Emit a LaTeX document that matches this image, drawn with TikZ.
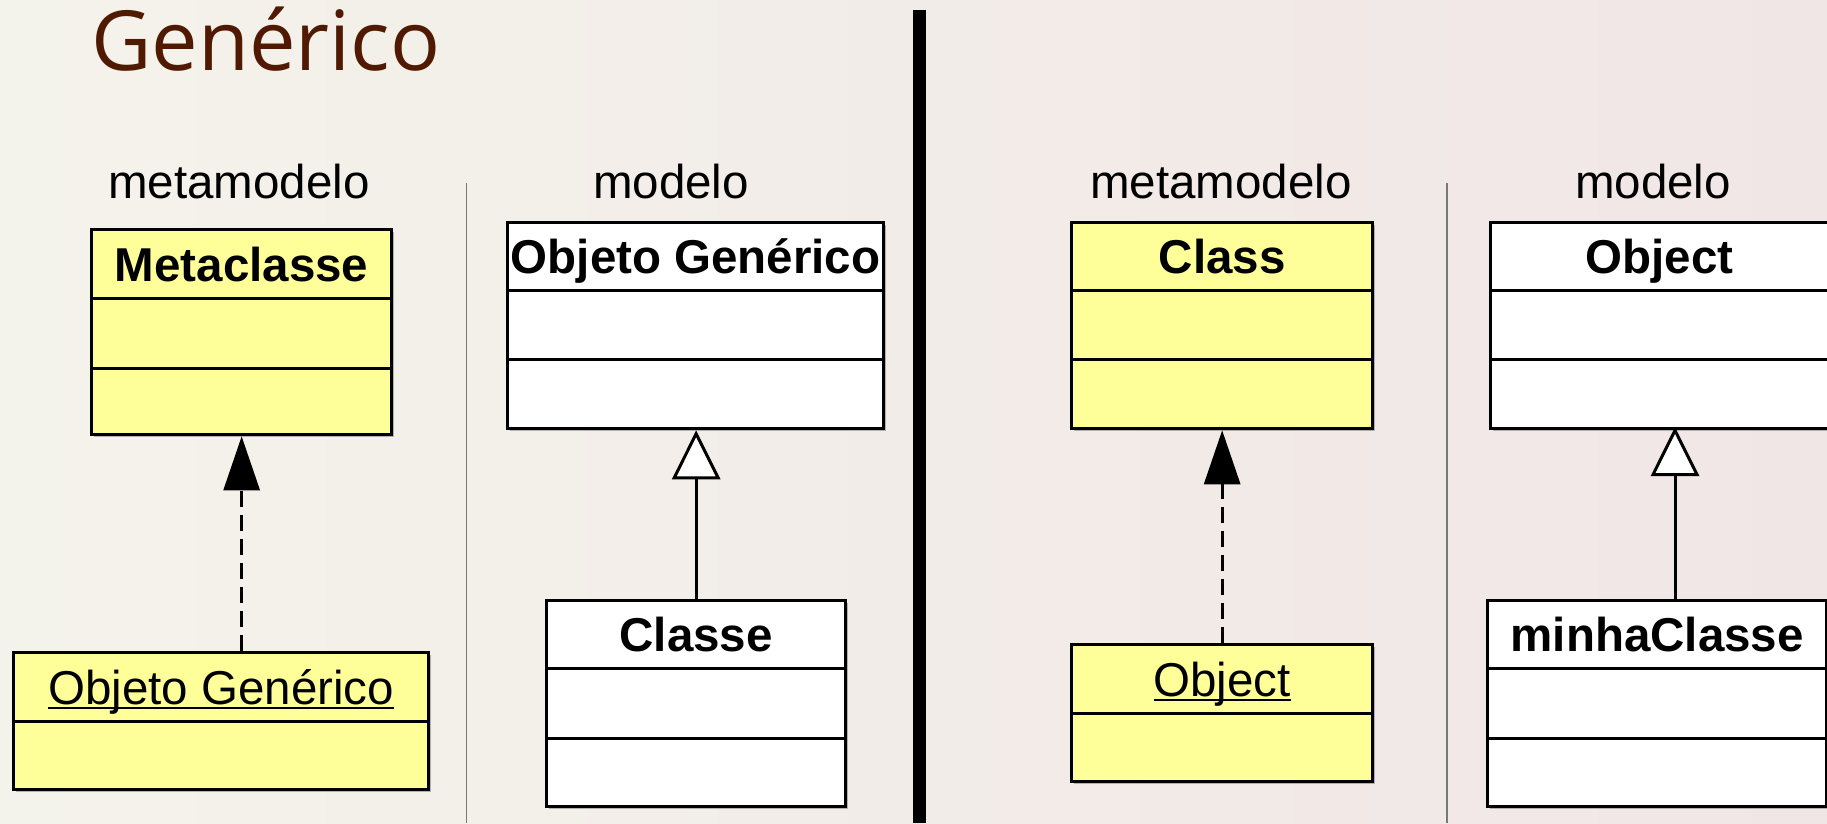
\documentclass[tikz,border=0pt]{standalone}
\usepackage{fontspec}
\setmainfont{Liberation Sans}
\newfontfamily\titlefont{Open Sans}
\usetikzlibrary{arrows.meta,shadows}
\definecolor{umly}{RGB}{255,255,153}
\definecolor{titlec}{RGB}{80,26,2}
\definecolor{bgL}{RGB}{244,243,235}
\definecolor{bgM}{RGB}{242,236,232}
\definecolor{bgR}{RGB}{241,230,230}
\definecolor{sepgray}{RGB}{120,120,120}
\newcommand\myul[1]{\setbox0\hbox{#1}\rlap{\rule[-0.11em]{\wd0}{0.06em}}\box0}
\begin{document}
\begin{tikzpicture}[x=1pt,y=-1pt,
  comp/.style={draw=black,line width=3.3pt,inner sep=0pt,anchor=north west,
    font=\fontsize{47.5}{57}\selectfont,text height=34pt,text depth=0pt,
    drop shadow={shadow xshift=2pt,shadow yshift=-2.5pt,opacity=0.45,fill=black!60}},
  ycomp/.style={comp,fill=umly},
  wcomp/.style={comp,fill=white},
  lab/.style={anchor=base,inner sep=0pt,font=\fontsize{47.5}{57}\selectfont},
  dep/.style={line width=3pt,dash pattern=on 16pt off 8pt,
    -{Triangle[length=54pt,width=36pt]}},
  gen/.style={line width=3pt,-{Triangle[open,length=49pt,width=48pt,fill=white]}},
  thinsep/.style={draw=sepgray,line width=1.3pt},
]
\useasboundingbox (0,0) rectangle (1827,823);
\shade[left color=bgL,right color=bgR,middle color=bgM] (0,0) rectangle (1827,823);

% title
\node[anchor=base west,inner sep=0pt,font=\titlefont\fontsize{83}{97}\selectfont,text=titlec] (title) at (91,70) {Genérico};

% separators
\draw[line width=13pt] (919.5,10) -- (919.5,823);
\draw[thinsep] (466.5,183) -- (466.5,823);
\draw[thinsep] (1447,183) -- (1447,823);

% labels
\node[lab] (lmetaL) at (239,198) {metamodelo};
\node[lab] (lmodL) at (671,198) {modelo};
\node[lab] (lmetaR) at (1221,198) {metamodelo};
\node[lab] (lmodR) at (1653,198) {modelo};

% Metaclasse
\node[ycomp,minimum width=300pt,minimum height=69pt] (mc1) at (90,228) {\bfseries Metaclasse};
\node[ycomp,minimum width=300pt,minimum height=70pt] (mc2) at (90,297) {};
\node[ycomp,minimum width=300pt,minimum height=66pt] (mc3) at (90,367) {};

% Objeto Generico (instance)
\node[ycomp,minimum width=415pt,minimum height=69pt] (ogi1) at (12,651) {\myul{Objeto Genérico}};
\node[ycomp,minimum width=415pt,minimum height=68pt] (ogi2) at (12,720) {};

% Objeto Generico (class)
\node[wcomp,minimum width=376pt,minimum height=68pt] (og1) at (506,221) {\bfseries Objeto Genérico};
\node[wcomp,minimum width=376pt,minimum height=69pt] (og2) at (506,289) {};
\node[wcomp,minimum width=376pt,minimum height=69pt] (og3) at (506,358) {};

% Classe
\node[wcomp,minimum width=299pt,minimum height=68pt] (cl1) at (545,599) {\bfseries Classe};
\node[wcomp,minimum width=299pt,minimum height=70pt] (cl2) at (545,667) {};
\node[wcomp,minimum width=299pt,minimum height=68pt] (cl3) at (545,737) {};

% Class
\node[ycomp,minimum width=301pt,minimum height=68pt] (c1) at (1070,221) {\bfseries Class};
\node[ycomp,minimum width=301pt,minimum height=69pt] (c2) at (1070,289) {};
\node[ycomp,minimum width=301pt,minimum height=69pt] (c3) at (1070,358) {};

% Object (instance)
\node[ycomp,minimum width=301pt,minimum height=69pt] (oi1) at (1070,643) {\myul{Object}};
\node[ycomp,minimum width=301pt,minimum height=68pt] (oi2) at (1070,712) {};

% Object (class)
\node[wcomp,minimum width=338pt,minimum height=68pt] (o1) at (1489,221) {\bfseries Object};
\node[wcomp,minimum width=338pt,minimum height=69pt] (o2) at (1489,289) {};
\node[wcomp,minimum width=338pt,minimum height=69pt] (o3) at (1489,358) {};

% minhaClasse
\node[wcomp,minimum width=339pt,minimum height=68pt] (mh1) at (1486,599) {\bfseries minhaClasse};
\node[wcomp,minimum width=339pt,minimum height=70pt] (mh2) at (1486,667) {};
\node[wcomp,minimum width=339pt,minimum height=68pt] (mh3) at (1486,737) {};

% connectors
\draw[dep] (ogi1.north -| mc3.south) -- (mc3.south);
\draw[gen] (cl1.north) -- (og3.south -| cl1.north);
\draw[dep] (oi1.north) -- (c3.south);
\coordinate (gtop) at (1675,427);
\draw[gen] (mh1.north -| gtop) -- (gtop);
\end{tikzpicture}
\end{document}
